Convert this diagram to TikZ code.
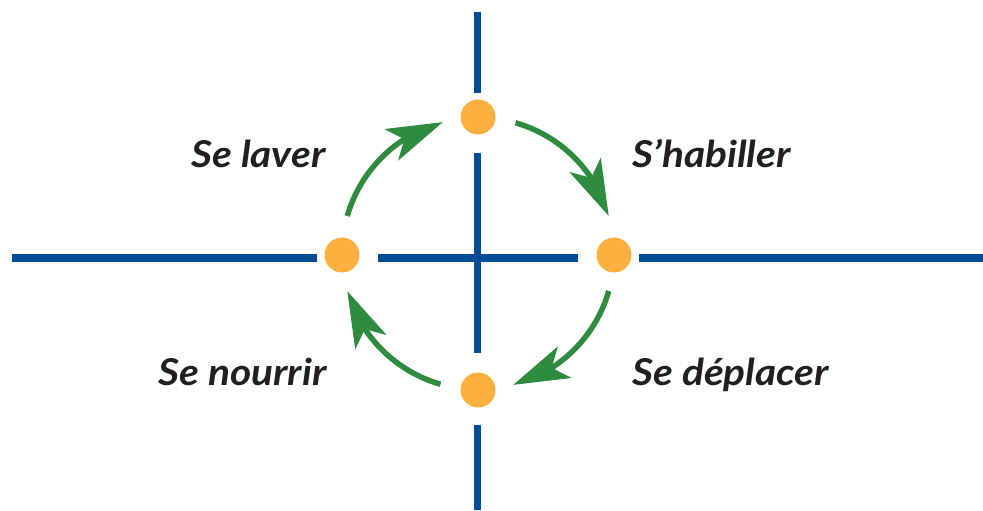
\documentclass[tikz,border=0pt]{standalone}
\usepackage{fontspec}
\setmainfont{Lato}
\usetikzlibrary{arrows.meta,bending,calc}
\definecolor{AxisBlue}{RGB}{0,76,151}
\definecolor{DotOrange}{RGB}{251,176,64}
\definecolor{CycleGreen}{RGB}{46,139,64}
\definecolor{LabelGray}{RGB}{35,31,32}
\newfontfamily\labelfont[FakeStretch=1.1]{Lato}

\begin{document}
\begin{tikzpicture}[x=0.5pt,y=0.5pt,
  axis/.style={line width=3.75pt,AxisBlue},
  dot/.style={circle,fill=DotOrange,minimum size=17.5pt,inner sep=0pt},
  cyc/.style={-{Stealth[length=28pt,width=17pt,inset=7pt]},line width=2.75pt,CycleGreen},
  lbl/.style={font=\labelfont\fontsize{18.5}{21}\selectfont\bfseries\itshape,text=LabelGray,inner sep=0pt},
]
\useasboundingbox (0,0) rectangle (983,510);
\coordinate (c) at (478,256.5);
% axes
\draw[axis] (12,252) -- (317,252);
\draw[axis] (378,252) -- (578,252);
\draw[axis] (639,252) -- (983,252);
\draw[axis] (477.5,498) -- (477.5,417);
\draw[axis] (477.5,357) -- (477.5,157);
\draw[axis] (477.5,85) -- (477.5,0);
% dots
\node[dot] (top) at (478,393) {};
\node[dot] (right) at (614,255) {};
\node[dot] (bottom) at (478,120) {};
\node[dot] (left) at (342,255) {};
% cycle arrows
\draw[cyc] ($(c)+(164:136)$) arc[start angle=164,end angle=105,radius=136];
\draw[cyc] ($(c)+(74:136)$) arc[start angle=74,end angle=16,radius=136];
\draw[cyc] ($(c)+(-16:136)$) arc[start angle=-16,end angle=-75,radius=136];
\draw[cyc] ($(c)+(-106:136)$) arc[start angle=-106,end angle=-164,radius=136];
% labels
\node[lbl,anchor=base east] (laver) at (326,343) {Se laver};
\node[lbl,anchor=base west] (habiller) at (632,343) {S’habiller};
\node[lbl,anchor=base east] (nourrir) at (327,125) {Se nourrir};
\node[lbl,anchor=base west] (deplacer) at (632,125) {Se déplacer};
\end{tikzpicture}
\end{document}
